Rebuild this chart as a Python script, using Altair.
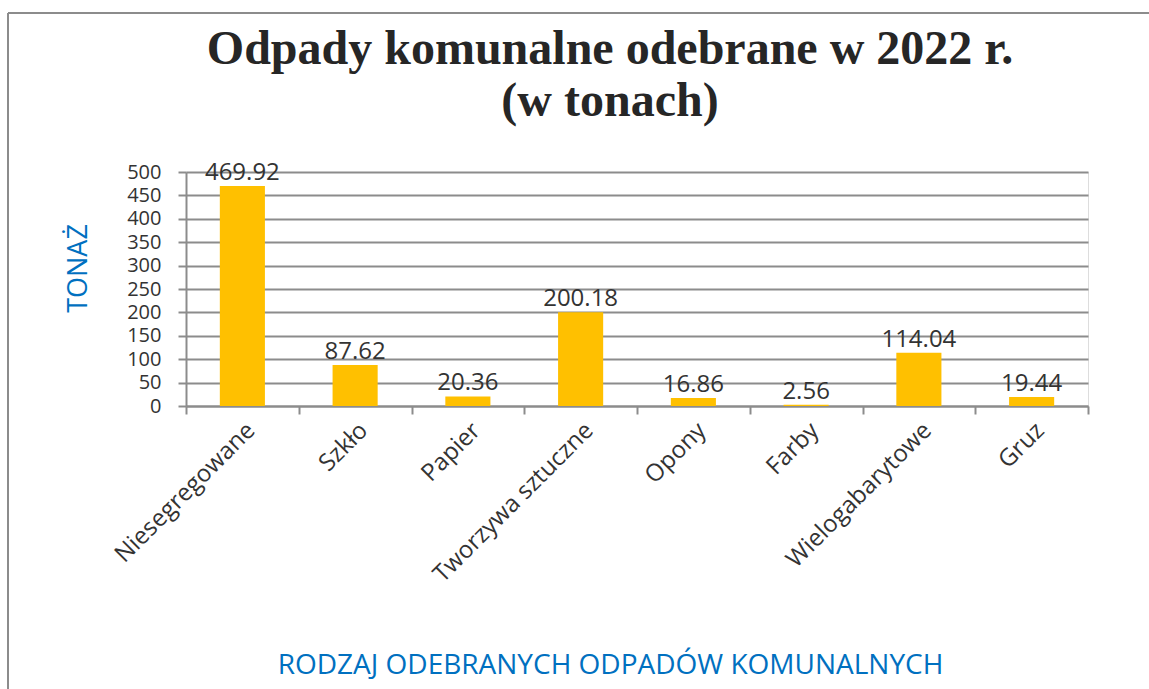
import altair as alt
import pandas as pd

categories = ["Niesegregowane", "Szkło", "Papier", "Tworzywa sztuczne", "Opony", "Farby", "Wielogabarytowe", "Gruz"]
values = [469.92, 87.62, 20.36, 200.18, 16.86, 2.56, 114.04, 19.44]
y_ticks = [0, 50, 100, 150, 200, 250, 300, 350, 400, 450, 500]

df = pd.DataFrame({"kategoria": categories, "tony": values,
                   "etykieta": [f"{v:.2f}" for v in values]})

GRAY = "#8c8c8c"
TEXT = "#333333"
BLUE = "#0070C0"
FONT = "Open Sans"

x_enc = alt.X("kategoria:N", sort=categories,
              scale=alt.Scale(paddingInner=0, paddingOuter=0),
              axis=alt.Axis(title="RODZAJ ODEBRANYCH ODPADÓW KOMUNALNYCH",
                            titleColor=BLUE, titleFont=FONT, titleFontSize=28,
                            titleFontWeight="normal", titleX=424, titleY=259,
                            titleBaseline="middle", titleAnchor="middle",
                            labelAngle=-45, labelFont=FONT, labelFontSize=24,
                            labelColor=TEXT, labelPadding=4, labelOverlap=False,
                            labelLimit=0,
                            tickBand="extent", tickSize=8, tickColor=GRAY,
                            tickWidth=2, domainColor=GRAY, domainWidth=2,
                            grid=False))
y_enc = alt.Y("tony:Q", scale=alt.Scale(domain=[0, 500], nice=False),
              axis=alt.Axis(title="TONAŻ", titleColor=BLUE, titleFont=FONT,
                            titleFontSize=27, titleFontWeight="normal",
                            titleX=-108, titleY=96, titleAngle=-90,
                            titleBaseline="middle", titleAlign="center",
                            values=y_ticks, labelFont=FONT, labelFontSize=20,
                            labelColor=TEXT, labelPadding=17, labelOverlap=False,
                            tickSize=8, tickColor=GRAY, tickWidth=2,
                            domainColor=GRAY, domainWidth=2,
                            grid=True, gridColor=GRAY, gridWidth=2))

bars = alt.Chart(df).mark_bar(color="#FFC000", width={"band": 0.4}).encode(x=x_enc, y=y_enc)
labels = alt.Chart(df).mark_text(font=FONT, fontSize=24, color=TEXT, baseline="bottom", dy=-1).encode(
    x=x_enc, y=y_enc, text="etykieta:N")

border_top = alt.Chart(alt.Data(values=[{"a": 1}])).mark_rule(color=GRAY, strokeWidth=2).encode(
    x=alt.value(-178), x2=alt.value(1100), y=alt.value(-159))
border_left = alt.Chart(alt.Data(values=[{"a": 1}])).mark_rule(color=GRAY, strokeWidth=2).encode(
    x=alt.value(-178), y=alt.value(-159), y2=alt.value(600))

chart = alt.layer(bars, labels, border_top, border_left).properties(
    width=902, height=234,
    title=alt.TitleParams(["Odpady komunalne odebrane w 2022 r.", "(w tonach)"],
                          font="Liberation Serif", fontSize=48, fontWeight="bold",
                          color="#262626", anchor="middle", frame="group",
                          dx=-27, offset=0, dy=114, lineHeight=52),
    autosize=alt.AutoSizeParams(type="none"),
    padding={"left": 186, "top": 172, "right": 61, "bottom": 283},
).configure_view(stroke=None).configure(background="white")

chart.save("out.html", embed_options={"renderer": "svg", "actions": False})
